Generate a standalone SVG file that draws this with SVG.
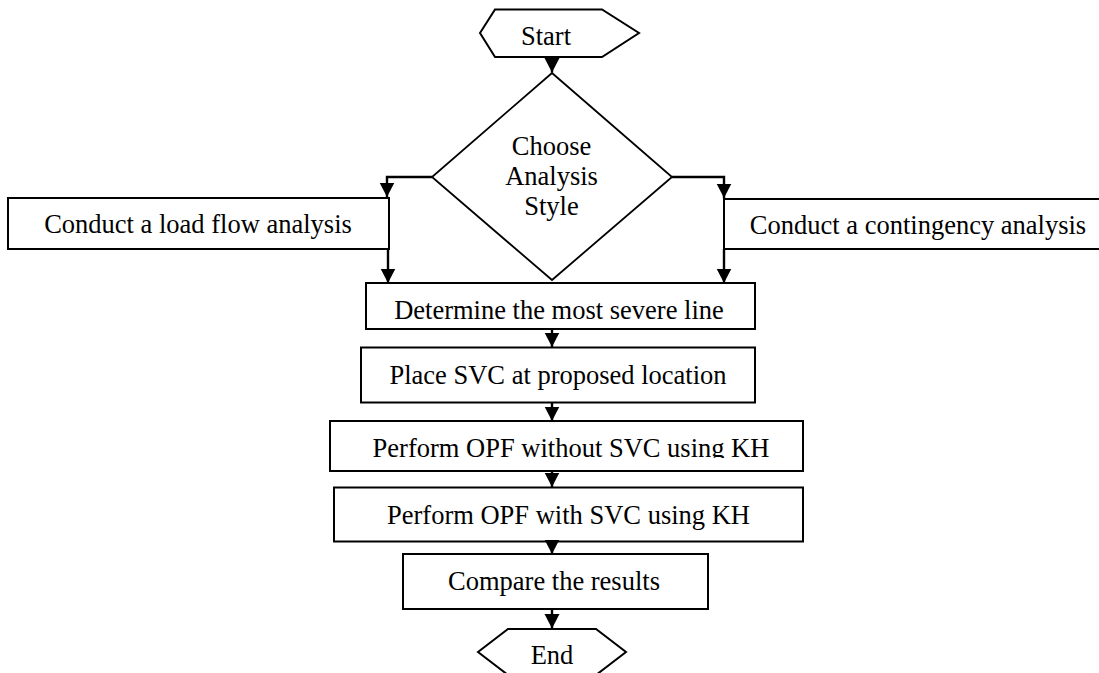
<svg xmlns="http://www.w3.org/2000/svg" width="1099" height="673" viewBox="0 0 1099 673">
  <style>
    .shape { fill: #ffffff; stroke: #000000; stroke-width: 2; }
    .diamond { fill: #ffffff; stroke: #000000; stroke-width: 1.8; }
    .label { font-family: "Liberation Serif", "Times New Roman", serif; font-size: 26.5px; fill: #000000; text-anchor: middle; }
    .link { fill: none; stroke: #000000; stroke-width: 2.4; }
  </style>
  <defs>
    <marker id="arrow" markerUnits="userSpaceOnUse" markerWidth="16" markerHeight="16" refX="14.5" refY="7.5" orient="auto">
      <path d="M0,0 L14.5,7.5 L0,15 z" fill="#000000"/>
    </marker>
    <clipPath id="clip-opf-without">
      <rect x="320" y="421" width="500" height="37"/>
    </clipPath>
  </defs>
  <rect width="1099" height="673" fill="#ffffff"/>

  <g id="node-start">
    <polygon class="shape" points="480,33 495,9.5 602,9.5 639,33 602,57 495,57"/>
    <text class="label" x="546" y="45">Start</text>
  </g>

  <g id="node-choose">
    <polygon class="diamond" points="552,73 672,177 552,280 432,177"/>
    <text class="label" x="551.5" y="155">Choose</text>
    <text class="label" x="551.5" y="185">Analysis</text>
    <text class="label" x="551.5" y="215">Style</text>
  </g>

  <g id="node-load-flow">
    <rect class="shape" x="8" y="198" width="381" height="51"/>
    <text class="label" x="198" y="233">Conduct a load flow analysis</text>
  </g>

  <g id="node-contingency">
    <rect class="shape" x="724" y="199" width="392" height="50"/>
    <text class="label" x="918" y="234">Conduct a contingency analysis</text>
  </g>

  <g id="node-severe-line">
    <rect class="shape" x="366" y="283" width="389" height="46"/>
    <text class="label" x="559" y="319">Determine the most severe line</text>
  </g>

  <g id="node-place-svc">
    <rect class="shape" x="361" y="347.5" width="394" height="55"/>
    <text class="label" x="558" y="383.5">Place SVC at proposed location</text>
  </g>

  <g id="node-opf-without">
    <rect class="shape" x="330" y="421" width="473" height="50"/>
    <text class="label" x="571" y="456.5" clip-path="url(#clip-opf-without)">Perform OPF without SVC using KH</text>
  </g>

  <g id="node-opf-with">
    <rect class="shape" x="334" y="487.5" width="469" height="54"/>
    <text class="label" x="568.5" y="523.5">Perform OPF with SVC using KH</text>
  </g>

  <g id="node-compare">
    <rect class="shape" x="403" y="554" width="305" height="55"/>
    <text class="label" x="554" y="590">Compare the results</text>
  </g>

  <g id="node-end">
    <polygon class="shape" points="478,652 508,629 596,629 626,652 596,675 508,675"/>
    <text class="label" x="552" y="663.5">End</text>
  </g>

  <g id="connectors">
    <line class="link" x1="552" y1="57" x2="552" y2="72.5" marker-end="url(#arrow)"/>
    <polyline class="link" points="432,177 387,177 387,197" marker-end="url(#arrow)"/>
    <polyline class="link" points="672,177 724,177 724,198" marker-end="url(#arrow)"/>
    <line class="link" x1="388" y1="249" x2="388" y2="283" marker-end="url(#arrow)"/>
    <line class="link" x1="724" y1="249" x2="724" y2="283" marker-end="url(#arrow)"/>
    <line class="link" x1="552" y1="329" x2="552" y2="347" marker-end="url(#arrow)"/>
    <line class="link" x1="552" y1="402.5" x2="552" y2="421" marker-end="url(#arrow)"/>
    <line class="link" x1="552" y1="471" x2="552" y2="487" marker-end="url(#arrow)"/>
    <line class="link" x1="552" y1="541.5" x2="552" y2="554" marker-end="url(#arrow)"/>
    <line class="link" x1="552" y1="609" x2="552" y2="628.5" marker-end="url(#arrow)"/>
  </g>
</svg>
